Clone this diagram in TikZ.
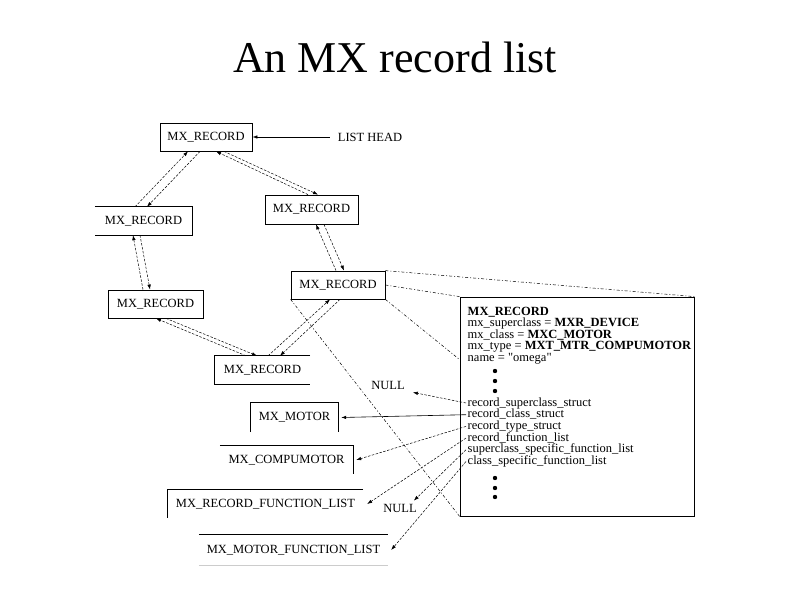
\documentclass[tikz,border=0pt]{standalone}
\usepackage{fontspec}
\setmainfont{Liberation Serif}[Ligatures=TeXOff]
\usetikzlibrary{arrows.meta}

\begin{document}

\begin{tikzpicture}[x=1pt, y=-1pt,
  recbox/.style={rectangle, inner sep=0pt, font=\fontsize{12.5}{14}\selectfont},
  lbl/.style={inner sep=3pt, font=\fontsize{12.5}{14}\selectfont},
  fieldtext/.style={anchor=west, inner xsep=1.5pt, inner ysep=0pt, text height=8.5pt, text depth=2.5pt,
    font=\fontsize{12.5}{14}\selectfont},
  edge/.style={line width=0.8pt},
  ptr/.style={line width=0.5pt, dash pattern=on 2.5pt off 1.5pt, -{Latex[length=5pt,width=3.5pt]}},
  ptrsolid/.style={line width=0.6pt, -{Latex[length=5pt,width=3.5pt]}},
  zoomline/.style={line width=0.5pt, dash pattern=on 3pt off 2pt on 1pt off 2pt}]

  \useasboundingbox (0,0) rectangle (792,612);

  \node[anchor=base, font=\fontsize{44}{48}\selectfont] (title) at (395,73) {An MX record list};

  % the linked list of records
  \node[recbox, draw, edge, minimum width=92pt, minimum height=28pt] (rtop) at (206,137) {MX\_RECORD};
  \node[recbox, minimum width=97pt, minimum height=28pt] (rleft) at (143.5,221) {MX\_RECORD};
  \node[recbox, draw, edge, minimum width=93pt, minimum height=29pt] (rright) at (311.5,209.5) {MX\_RECORD};
  \node[recbox, draw, edge, minimum width=95pt, minimum height=28pt] (rlow) at (155.5,304) {MX\_RECORD};
  \node[recbox, draw, edge, minimum width=94pt, minimum height=28pt] (rmid) at (338,285) {MX\_RECORD};
  \node[recbox, minimum width=95pt, minimum height=28pt] (rbot) at (262.5,370) {MX\_RECORD};

  \draw[edge] (rleft.north west) -- (rleft.north east) -- (rleft.south east) -- (rleft.south west);
  \draw[edge] (rbot.north east) -- (rbot.north west) -- (rbot.south west) -- (rbot.south east);

  \node[lbl, inner xsep=8pt] (lhead) at (370,137) {LIST HEAD};
  \draw[ptrsolid] (lhead.west) -- (rtop.east);

  \draw[ptr] ([xshift=-8.5pt]rleft.north) -- ([xshift=-18pt]rtop.south);
  \draw[ptr] ([xshift=-6pt]rtop.south) -- ([xshift=3.5pt]rleft.north);

  \draw[ptr] ([xshift=-3.5pt]rright.north) -- ([xshift=10pt]rtop.south);
  \draw[ptr] ([xshift=18pt]rtop.south) -- ([xshift=6.5pt]rright.north);

  \draw[ptr] ([xshift=-12.5pt]rlow.north) -- ([xshift=-10.5pt]rleft.south);
  \draw[ptr] ([xshift=-3.5pt]rleft.south) -- ([xshift=-5.5pt]rlow.north);

  \draw[ptr] ([xshift=-2pt]rmid.north) -- ([xshift=4.5pt]rright.south);
  \draw[ptr] ([xshift=12.5pt]rright.south) -- ([xshift=6pt]rmid.north);

  \draw[ptr] ([xshift=-16.5pt]rbot.north) -- ([xshift=0.5pt]rlow.south);
  \draw[ptr] ([xshift=10.5pt]rlow.south) -- ([xshift=-5.5pt]rbot.north);

  \draw[ptr] ([xshift=5.5pt]rbot.north) -- ([xshift=-8pt]rmid.south);
  \draw[ptr] ([xshift=2pt]rmid.south) -- ([xshift=17.5pt]rbot.north);

  % structures the record points to
  \node[recbox, minimum width=87pt, minimum height=29pt] (motor) at (294.5,417.5) {MX\_MOTOR};
  \node[recbox, minimum width=133pt, minimum height=28pt] (compu) at (286.5,460) {MX\_COMPUMOTOR};
  \node[recbox, minimum width=195pt, minimum height=28pt] (rfl) at (265.5,504) {MX\_RECORD\_FUNCTION\_LIST};
  \node[recbox, minimum width=189pt, minimum height=30pt] (mfl) at (293.5,550) {MX\_MOTOR\_FUNCTION\_LIST};

  \draw[edge] (motor.south west) -- (motor.north west) -- (motor.north east) -- (motor.south east);
  \draw[edge] (compu.north west) -- (compu.north east) -- (compu.south east);
  \draw[edge] (rfl.north east) -- (rfl.north west) -- (rfl.south west);
  \draw[edge] (mfl.north west) -- (mfl.north east);
  \draw[edge, gray!40] (mfl.south west) -- (mfl.south east);

  \node[lbl] (null1) at (388,385) {NULL};
  \node[lbl] (null2) at (400,508) {NULL};

  % the record itself, blown up
  \node[draw, edge, minimum width=234pt, minimum height=219pt] (rec) at (577,406.5) {};

  \draw[zoomline] (rmid.north east) -- (rec.north east);
  \draw[zoomline] (rmid.east) -- (rec.north west);
  \draw[zoomline] (rmid.south east) -- ([yshift=-63pt]rec.north west);
  \draw[zoomline] (rmid.south west) -- (rec.south west);

  \node[fieldtext] (h1) at (466,312) {\textbf{MX\_RECORD}};
  \node[fieldtext] (h2) at (466,323.6) {mx\_superclass = \textbf{MXR\_DEVICE}};
  \node[fieldtext] (h3) at (466,335.2) {mx\_class = \textbf{MXC\_MOTOR}};
  \node[fieldtext] (h4) at (466,346.8) {mx\_type = \textbf{MXT\_MTR\_COMPUMOTOR}};
  \node[fieldtext] (h5) at (466,358.4) {name = "omega"};

  \foreach \yy in {371, 381, 391, 478, 488, 497} {
    \fill (495,\yy) circle (2.2);
  }

  \foreach \txt [count=\i] in {record\_superclass\_struct, record\_class\_struct,
      record\_type\_struct, record\_function\_list,
      superclass\_specific\_function\_list, class\_specific\_function\_list} {
    \pgfmathsetmacro{\yy}{391.3 + 11.7 * \i}
    \node[fieldtext] (f\i) at (466,\yy) {\txt};
  }

  \draw[ptr] (f1.west) -- ([xshift=5pt]null1.south east);
  \draw[ptrsolid] (f2.west) -- ([xshift=3pt]motor.east);
  \draw[ptr] (f3.west) -- ([xshift=3pt]compu.east);
  \draw[ptr] (f4.west) -- ([xshift=4pt]rfl.east);
  \draw[ptr] (f5.west) -- ([xshift=-6pt]null2.north east);
  \draw[ptr] (f6.west) -- ([xshift=3pt]mfl.east);

\end{tikzpicture}

\end{document}
